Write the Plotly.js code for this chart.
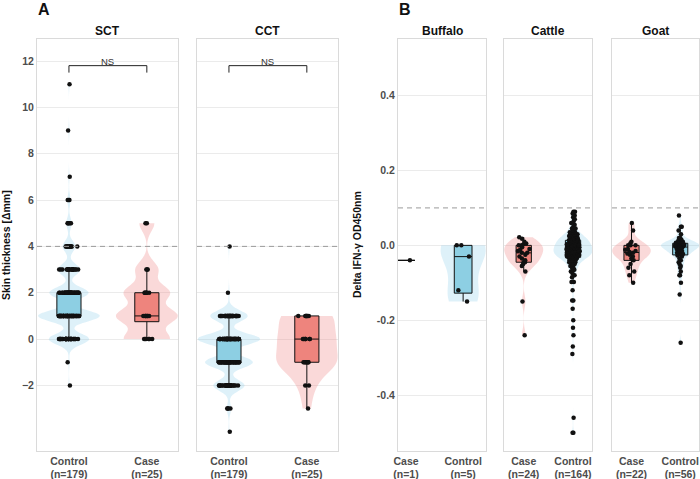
<!DOCTYPE html>
<html><head><meta charset="utf-8">
<script src="https://cdn.plot.ly/plotly-3.0.1.min.js"></script>
<style>html,body{margin:0;padding:0;background:#fff}</style>
</head><body><div id="chart" style="width:700px;height:479px"></div>
<script>
// ---------- DATA ----------
const groupsA = ["Control", "Case"];
const nA = [179, 25];
const groupsBuffalo = ["Case", "Control"];
const nBuffalo = [1, 5];
const groupsCattle = ["Case", "Control"];
const nCattle = [24, 164];
const groupsGoat = ["Case", "Control"];
const nGoat = [22, 56];

const sctControl = [
 -2, -1,
 0,0,0,0,0,0,0,0,0,0, 0,0,0,0,0,0,0,0,0,0, 0,0,0,0,0,0,0,0,0,0, 0,0,0,0,0,0,0,0,
 1,1,1,1,1,1,1,1,1,1, 1,1,1,1,1,1,1,1,1,1, 1,1,1,1,1,1,1,1,1,1, 1,1,1,1,1,1,1,1,1,1,
 1,1,1,1,1,1,1,1,1,1, 1,1,1,1,1,1,1,1,
 2,2,2,2,2,2,2,2,2,2, 2,2,2,2,2,2,2,2,2,2, 2,2,2,2,2,2,2,2,2,2, 2,2,2,2,2,2,2,
 3,3,3,3,3,3,3,3,3,3, 3,3,3,3,3,3,3,3,3,3, 3,
 4,4,4,4,4,4,4,4,4,4, 4,4,
 5,5,5,5,5,
 6,6,6, 7, 9, 11
];
const sctCase = [
 0,0,0,0,0,0,
 1,1,1,1,1,1,1,1,
 2,2,2,2,2,2,
 3,3,3,
 5,5
];
const cctControl = [
 4, 2,
 1,1,1,1,1,1,1,1,1,1, 1,1,1,1,1,1,1,1,1,1, 1,1,1,1,1,1,1,1,1,1, 1,1,1,1,1,1,
 0,0,0,0,0,0,0,0,0,0, 0,0,0,0,0,0,0,0,0,0, 0,0,0,0,0,0,0,0,0,0,
 0,0,0,0,0,0,0,0,0,0, 0,0,0,0,0,0,0,0,0,0, 0,0,0,0,0,0,0,0,0,0,
 -1,-1,-1,-1,-1,-1,-1,-1,-1,-1, -1,-1,-1,-1,-1,-1,-1,-1,-1,-1, -1,-1,-1,-1,-1,-1,-1,-1,-1,-1,
 -1,-1,-1,-1,-1,-1,-1,-1,-1,-1, -1,-1,-1,-1,-1,-1,
 -2,-2,-2,-2,-2,-2,-2,-2,-2,-2, -2,-2,-2,-2,-2,-2,-2,-2,-2,-2, -2,-2,-2,-2,-2,-2,-2,-2,-2,-2,
 -3,-3,-3,-3,
 -4
];
const cctCase = [
 1,1,1,1,1,1,1,
 0,0,0,0,0,0,0,
 -1,-1,-1,-1,-1,-1,-1,-1,
 -2,-2,
 -3
];

const buffaloCase = [-0.04];
const buffaloControl = [0, 0, -0.03, -0.12, -0.15];

const cattleCase = [
 0.022, 0.018, 0.01, 0.005, 0.003, 0.0, 0.0, -0.005, -0.01, -0.012,
 -0.015, -0.02, -0.02, -0.025, -0.03, -0.035, -0.04, -0.045, -0.045, -0.05,
 -0.055, -0.07, -0.15, -0.24
];
const cattleControl = [
 0.09, 0.09, 0.085, 0.08, 0.075, 0.07, 0.065, 0.06, 0.055, 0.05,
 0.045, 0.045, 0.04, 0.04, 0.035, 0.035, 0.035, 0.03, 0.03, 0.03,
 0.03, 0.025, 0.025, 0.025, 0.025, 0.025, 0.02, 0.02, 0.02, 0.02,
 0.02, 0.02, 0.015, 0.015, 0.015, 0.015, 0.015, 0.015, 0.015, 0.014,
 0.014,
 0.013, 0.012, 0.012, 0.011, 0.01, 0.01, 0.009, 0.008, 0.008, 0.007,
 0.006, 0.005, 0.005, 0.004, 0.003, 0.002, 0.002, 0.001, 0, 0,
 0, -0.001, -0.002, -0.002, -0.003, -0.004, -0.004, -0.005, -0.005, -0.006,
 -0.006, -0.007, -0.008, -0.008, -0.009, -0.01, -0.01, -0.01, -0.011, -0.012,
 -0.012, -0.013, -0.014, -0.014, -0.015, -0.015, -0.016, -0.017, -0.017, -0.018,
 -0.018, -0.019, -0.02, -0.02, -0.02, -0.021, -0.022, -0.022, -0.023, -0.023,
 -0.024, -0.025, -0.025, -0.026, -0.026, -0.027, -0.027, -0.028, -0.028, -0.029,
 -0.029, -0.03, -0.03, -0.03, -0.031, -0.031, -0.008, -0.012, -0.016, -0.004,
 0.003, -0.021,
 -0.033, -0.033, -0.035, -0.035, -0.035, -0.035, -0.04, -0.04, -0.04, -0.04,
 -0.045, -0.045, -0.045, -0.05, -0.05, -0.05, -0.055, -0.055, -0.06, -0.06,
 -0.065, -0.065, -0.07, -0.07, -0.075, -0.08, -0.085, -0.098, -0.098, -0.12,
 -0.147, -0.147, -0.169, -0.2, -0.22, -0.24, -0.27, -0.29, -0.46, -0.5,
 -0.5
];

const goatCase = [
 0.06, 0.04, 0.01, 0.005, 0.0, 0.0, 0.0, -0.01, -0.012, -0.015,
 -0.018, -0.02, -0.022, -0.025, -0.03, -0.035, -0.04, -0.05, -0.06, -0.07,
 -0.08, -0.1
];
const goatControl = [
 0.08, 0.05, 0.05, 0.04, 0.03, 0.02, 0.02, 0.015, 0.012, 0.01,
 0.01, 0.008, 0.007, 0.006,
 0.005, 0.004, 0.003, 0.002, 0.002, 0.001, 0, 0, 0, 0,
 -0.001, -0.002, -0.003, -0.004, -0.005, -0.006, -0.008, -0.01, -0.01, -0.012,
 -0.014, -0.015, -0.017, -0.018, -0.02, -0.021, -0.023, -0.024,
 -0.027, -0.03, -0.035, -0.04, -0.045, -0.05, -0.055, -0.06, -0.07, -0.08,
 -0.08, -0.1, -0.131, -0.26
];

const sctThreshold = 4;      // dashed reference line, panel A
const ifnThreshold = 0.1;    // dashed reference line, panel B
const nsLabel = "NS";

// ---------- STYLE ----------
const FONT = "Liberation Sans, Arial, Helvetica, sans-serif";
const COL = {
  Control: { box: "#8dcfe3", violin: "rgba(135,206,235,0.28)" },
  Case:    { box: "#ee847d", violin: "rgba(240,128,128,0.30)" }
};
const W = 700, H = 479;
const px = (a, b) => [a / W, b / W];
const yDom = [(H - 451) / H, (H - 39) / H];

function quant(s, p) {
  const idx = (s.length - 1) * p, lo = Math.floor(idx), hi = Math.ceil(idx);
  return s[lo] + (s[hi] - s[lo]) * (idx - lo);
}
function nrd0(v) {
  const s = [...v].sort((a, b) => a - b), n = s.length;
  const m = s.reduce((a, b) => a + b, 0) / n;
  const sd = Math.sqrt(s.reduce((a, b) => a + (b - m) * (b - m), 0) / (n - 1));
  let lo = Math.min(sd, (quant(s, 0.75) - quant(s, 0.25)) / 1.34);
  if (!lo) lo = sd || Math.abs(s[0]) || 1;
  return 0.9 * lo * Math.pow(n, -0.2);
}

const traces = [];
function addGroup(xa, ya, pos, vals, kind) {
  if (vals.length > 1) {
    traces.push({
      type: "violin", xaxis: xa, yaxis: ya, x0: pos, y: vals,
      width: 0.79, side: "both", points: false, box: { visible: false },
      meanline: { visible: false }, line: { width: 0, color: "rgba(0,0,0,0)" },
      fillcolor: COL[kind].violin, spanmode: "hard", scalemode: "width",
      bandwidth: nrd0(vals), hoverinfo: "skip", showlegend: false
    });
  }
  traces.push({
    type: "box", xaxis: xa, yaxis: ya, x0: pos, y: vals,
    width: 0.31, fillcolor: COL[kind].box, line: { color: "#111", width: 1 },
    whiskerwidth: 0, boxpoints: "all", jitter: 0.85, pointpos: 0,
    marker: { color: "#111", size: 4.5 }, hoverinfo: "skip", showlegend: false
  });
}

// Panel A
addGroup("x", "y", 0, sctControl, groupsA[0]);
addGroup("x", "y", 1, sctCase, groupsA[1]);
addGroup("x2", "y2", 0, cctControl, groupsA[0]);
addGroup("x2", "y2", 1, cctCase, groupsA[1]);
// Panel B
addGroup("x3", "y3", 0, buffaloCase, groupsBuffalo[0]);
addGroup("x3", "y3", 1, buffaloControl, groupsBuffalo[1]);
addGroup("x4", "y4", 0, cattleCase, groupsCattle[0]);
addGroup("x4", "y4", 1, cattleControl, groupsCattle[1]);
addGroup("x5", "y5", 0, goatCase, groupsGoat[0]);
addGroup("x5", "y5", 1, goatControl, groupsGoat[1]);

const tickFont = { family: FONT, size: 10.5, color: "#4d4d4d", weight: "bold" };
const lbl = (g, n) => g.map((c, i) => c + "<br>(n=" + n[i] + ")");
function xax(dom, anchor, range, g, n) {
  return {
    domain: dom, anchor: anchor, range: range, tickvals: [0, 1], ticktext: lbl(g, n),
    showgrid: false, zeroline: false, showline: true, mirror: true,
    linecolor: "#dadada", linewidth: 1, ticks: "", tickfont: tickFont,
    automargin: false, fixedrange: true
  };
}
function yax(anchor, extra) {
  return Object.assign({
    domain: yDom, anchor: anchor, showgrid: true, gridcolor: "#ebebeb", gridwidth: 1,
    zeroline: false, showline: true, mirror: true, linecolor: "#dadada", linewidth: 1,
    ticks: "", tickfont: tickFont, automargin: false, fixedrange: true
  }, extra);
}
const rangeA = [-0.41, 1.40], rangeB = [-0.40, 1.385], rangeBuf = [-0.14, 1.40];
const yRangeA = [-4.83, 12.95], yRangeB = [-0.549, 0.551];

const layout = {
  width: W, height: H, margin: { l: 0, r: 0, t: 0, b: 0 },
  paper_bgcolor: "#fff", plot_bgcolor: "#fff", showlegend: false,
  font: { family: FONT }, violinmode: "overlay", boxmode: "overlay",
  xaxis:  xax(px(37, 178), "y", rangeA, groupsA, nA),
  xaxis2: xax(px(197, 338), "y2", rangeA, groupsA, nA),
  xaxis3: xax(px(398, 486), "y3", rangeBuf, groupsBuffalo, nBuffalo),
  xaxis4: xax(px(504, 592), "y4", rangeB, groupsCattle, nCattle),
  xaxis5: xax(px(612, 699), "y5", rangeB, groupsGoat, nGoat),
  yaxis:  yax("x", { range: yRangeA, tickvals: [-2, 0, 2, 4, 6, 8, 10, 12] }),
  yaxis2: yax("x2", { range: yRangeA, tickvals: [-2, 0, 2, 4, 6, 8, 10, 12], showticklabels: false }),
  yaxis3: yax("x3", { range: yRangeB, tickvals: [-0.4, -0.2, 0, 0.2, 0.4], ticktext: ["-0.4", "-0.2", "0.0", "0.2", "0.4"] }),
  yaxis4: yax("x4", { range: yRangeB, tickvals: [-0.4, -0.2, 0, 0.2, 0.4], showticklabels: false }),
  yaxis5: yax("x5", { range: yRangeB, tickvals: [-0.4, -0.2, 0, 0.2, 0.4], showticklabels: false }),
  shapes: [],
  annotations: []
};

const dashLine = (xa, ya, v) => ({
  type: "line", xref: xa + " domain", yref: ya, x0: 0, x1: 1, y0: v, y1: v,
  line: { color: "#9a9a9a", width: 1, dash: "5px,4px" }, layer: "above"
});
layout.shapes.push(dashLine("x", "y", sctThreshold), dashLine("x2", "y2", sctThreshold));
layout.shapes.push(dashLine("x3", "y3", ifnThreshold), dashLine("x4", "y4", ifnThreshold), dashLine("x5", "y5", ifnThreshold));

// NS brackets
const brTop = 11.8, brTip = 11.5;
["x", "x2"].forEach((xa, i) => {
  const ya = i === 0 ? "y" : "y2";
  layout.shapes.push({
    type: "path", xref: xa, yref: ya,
    path: `M 0,${brTip} L 0,${brTop} L 1,${brTop} L 1,${brTip}`,
    line: { color: "#222", width: 1 }
  });
  layout.annotations.push({
    xref: xa, yref: ya, x: 0.5, y: 12.0, text: nsLabel, showarrow: false,
    font: { family: FONT, size: 9.5, color: "#333" }, yanchor: "middle"
  });
});

// Panel titles
const titles = [["x", "SCT"], ["x2", "CCT"], ["x3", "Buffalo"], ["x4", "Cattle"], ["x5", "Goat"]];
titles.forEach(([xa, t]) => layout.annotations.push({
  xref: xa + " domain", yref: "paper", x: 0.5, y: (H - 31) / H, text: "<b>" + t + "</b>",
  showarrow: false, xanchor: "center", yanchor: "middle",
  font: { family: FONT, size: 12, color: "#111" }
}));
// Panel letters
[["A", 37], ["B", 398]].forEach(([t, x]) => layout.annotations.push({
  xref: "paper", yref: "paper", x: x / W, y: 1, text: "<b>" + t + "</b>",
  showarrow: false, xanchor: "left", yanchor: "top", borderpad: 0,
  font: { family: FONT, size: 16, color: "#111" }
}));
// Axis titles
[["Skin thickness [Δmm]", 6], ["Delta IFN-γ OD450nm", 357]].forEach(([t, x]) => layout.annotations.push({
  xref: "paper", yref: "paper", x: x / W, y: (H - 245) / H, text: "<b>" + t + "</b>",
  textangle: -90, showarrow: false, xanchor: "center", yanchor: "middle",
  font: { family: FONT, size: 10.5, color: "#111" }
}));

Plotly.newPlot("chart", traces, layout, { staticPlot: true, displayModeBar: false });
</script></body></html>
